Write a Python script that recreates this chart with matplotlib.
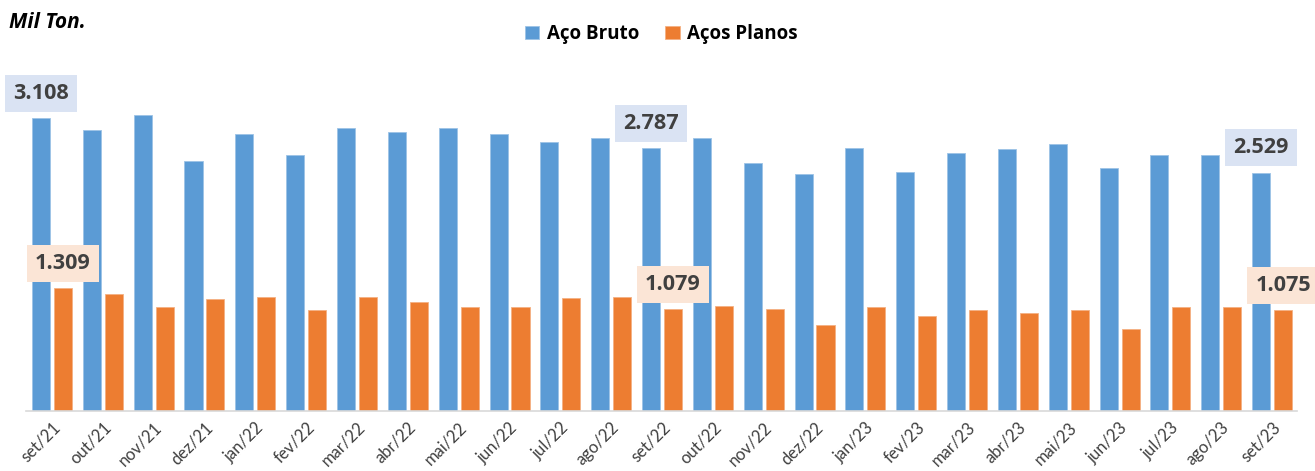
import matplotlib.pyplot as plt
import numpy as np

meses = ['set/21', 'out/21', 'nov/21', 'dez/21', 'jan/22', 'fev/22', 'mar/22',
         'abr/22', 'mai/22', 'jun/22', 'jul/22', 'ago/22', 'set/22', 'out/22',
         'nov/22', 'dez/22', 'jan/23', 'fev/23', 'mar/23', 'abr/23', 'mai/23',
         'jun/23', 'jul/23', 'ago/23', 'set/23']
aco_bruto = [3108, 2980, 3140, 2650, 2938, 2714, 3002, 2959, 3002, 2938, 2853,
             2895, 2787, 2895, 2629, 2512, 2789, 2533, 2735, 2778, 2831, 2576,
             2714, 2714, 2529]
acos_planos = [1309, 1245, 1107, 1192, 1213, 1075, 1213, 1160, 1107, 1107,
               1203, 1213, 1079, 1118, 1086, 915, 1107, 1011, 1075, 1043, 1075,
               873, 1107, 1107, 1075]
destaques = [0, 12, 24]  # meses com rotulo

plt.rcParams['font.family'] = ['Lato', 'DejaVu Sans']
negrito = ['Open Sans', 'DejaVu Sans']

azul = '#5B9BD5'
laranja = '#ED7D31'
cinza = '#404040'

fig = plt.figure(figsize=(13.15, 4.71), dpi=100)
ax = fig.add_axes([0.0198, 0.1275, 0.9665, 0.80])

ind = np.arange(len(meses))
w = 0.355
b1 = ax.bar(ind - 0.216, aco_bruto, w, color=azul, edgecolor='#9DC3E6', linewidth=0.6)
b2 = ax.bar(ind + 0.216, acos_planos, w, color=laranja, edgecolor='#F4B183', linewidth=0.6)

ax.set_xlim(-0.51, len(meses) - 0.51)
ax.set_ylim(0, 4000)
ax.set_yticks([])
ax.set_xticks(ind)
ax.set_xticklabels(meses, rotation=45, ha='right', rotation_mode='anchor',
                   fontsize=12, color=cinza)
ax.tick_params(axis='x', length=0, pad=6)
for s in ['top', 'right', 'left']:
    ax.spines[s].set_visible(False)
ax.spines['bottom'].set_color('#D9D9D9')
ax.spines['bottom'].set_linewidth(1.2)


def fmt(v):
    return '{:,}'.format(v).replace(',', '.')


for i in destaques:
    ax.annotate(fmt(aco_bruto[i]), (i - 0.216, aco_bruto[i]), xytext=(0, 10.5),
                textcoords='offset points', ha='center', va='bottom',
                fontsize=15.6, fontweight='bold', color=cinza, family=negrito,
                bbox=dict(boxstyle='square,pad=0.37', fc='#DAE3F3', ec='none'))
    ax.annotate(fmt(acos_planos[i]), (i + 0.216, acos_planos[i]), xytext=(0, 10),
                textcoords='offset points', ha='center', va='bottom',
                fontsize=15.6, fontweight='bold', color=cinza, family=negrito,
                bbox=dict(boxstyle='square,pad=0.37', fc='#FBE5D6', ec='none'),
                annotation_clip=False)

fig.text(0.007, 0.952, 'Mil Ton.', fontsize=15, fontweight='bold',
         fontstyle='italic', color='black', va='center', family=negrito)
fig.legend((b1[0], b2[0]), ('Aço Bruto', 'Aços Planos'), loc='center',
           bbox_to_anchor=(0.503, 0.928), ncol=2, frameon=False,
           prop={'size': 13.5, 'weight': 'bold', 'family': negrito},
           handlelength=0.75, handleheight=0.75, handletextpad=0.4,
           columnspacing=1.4, labelcolor='black')

fig.savefig('out.png', dpi=100)
